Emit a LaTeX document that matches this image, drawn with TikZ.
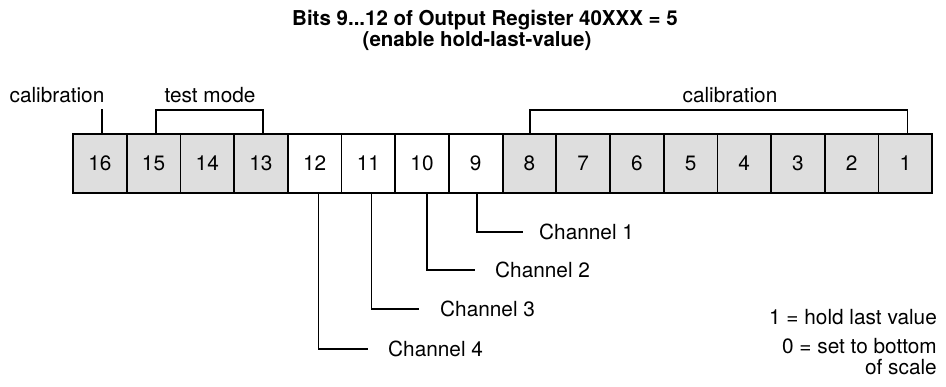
\documentclass[tikz,border=0pt]{standalone}
\usepackage{fontspec}
\setmainfont{TeX Gyre Heros}
\begin{document}
\begin{tikzpicture}[x=1pt,y=-1pt,
  txt/.style={font=\fontsize{20.8}{21}\selectfont, inner sep=0pt},
  ttl/.style={font=\fontsize{20.5}{24}\selectfont\bfseries, inner sep=0pt},
  bitbox/.style={draw, line width=1.8pt, minimum width=53.7pt, minimum height=59pt,
    inner sep=0pt, font=\fontsize{20.8}{21}\selectfont},
  grayfill/.style={fill=black!13},
  lead/.style={line width=1.6pt}]
\useasboundingbox (0,0) rectangle (946,387);
% title
\node[ttl] (t1) at (485,20) {Bits 9...12 of Output Register 40XXX = 5};
\node[ttl] (t2) at (477,41) {(enable hold-last-value)};
% boxes
\foreach \i in {16,...,1}{
  \pgfmathsetmacro{\xc}{73+(16-\i)*53.7+26.85}
  \ifnum\i>12
    \node[bitbox,grayfill] (b\i) at (\xc,163.5) {\i};
  \else\ifnum\i<9
    \node[bitbox,grayfill] (b\i) at (\xc,163.5) {\i};
  \else
    \node[bitbox,fill=white] (b\i) at (\xc,163.5) {\i};
  \fi\fi
}
% top labels
\node[txt, anchor=base] (cal1) at (57,103) {calibration};
\node[txt, anchor=base] (tm) at (210,103) {test mode};
\node[txt, anchor=base] (cal2) at (730,103) {calibration};
\draw[lead] ([xshift=2pt]b16.north) -- ++(0,-24);
\draw[lead] ([xshift=2.5pt]b15.north) -- ++(0,-23) -| ([xshift=2pt]b13.north);
\draw[lead] ([xshift=0.5pt]b8.north) -- ++(0,-23) -| ([xshift=2pt]b1.north);
% channel leads
\coordinate (e1) at (523,232);
\coordinate (e2) at (475,270);
\coordinate (e3) at (419,309);
\coordinate (e4) at (368,349);
\node[txt, anchor=west] (ch1) at (539,232) {Channel 1};
\node[txt, anchor=west] (ch2) at (495,270) {Channel 2};
\node[txt, anchor=west] (ch3) at (440,309) {Channel 3};
\node[txt, anchor=west] (ch4) at (388,349) {Channel 4};
\draw[lead] ([xshift=1.5pt]b9.south) |- (e1);
\draw[lead] ([xshift=5pt]b10.south) |- (e2);
\draw[lead] ([xshift=3pt]b11.south) |- (e3);
\draw[lead] ([xshift=4pt]b12.south) |- (e4);
% legend
\node[txt, anchor=east] (l1) at (937,317) {1 = hold last value};
\node[txt, anchor=north east, align=right] (l2) at (937,338) {0 = set to bottom\\of scale};
\end{tikzpicture}
\end{document}
